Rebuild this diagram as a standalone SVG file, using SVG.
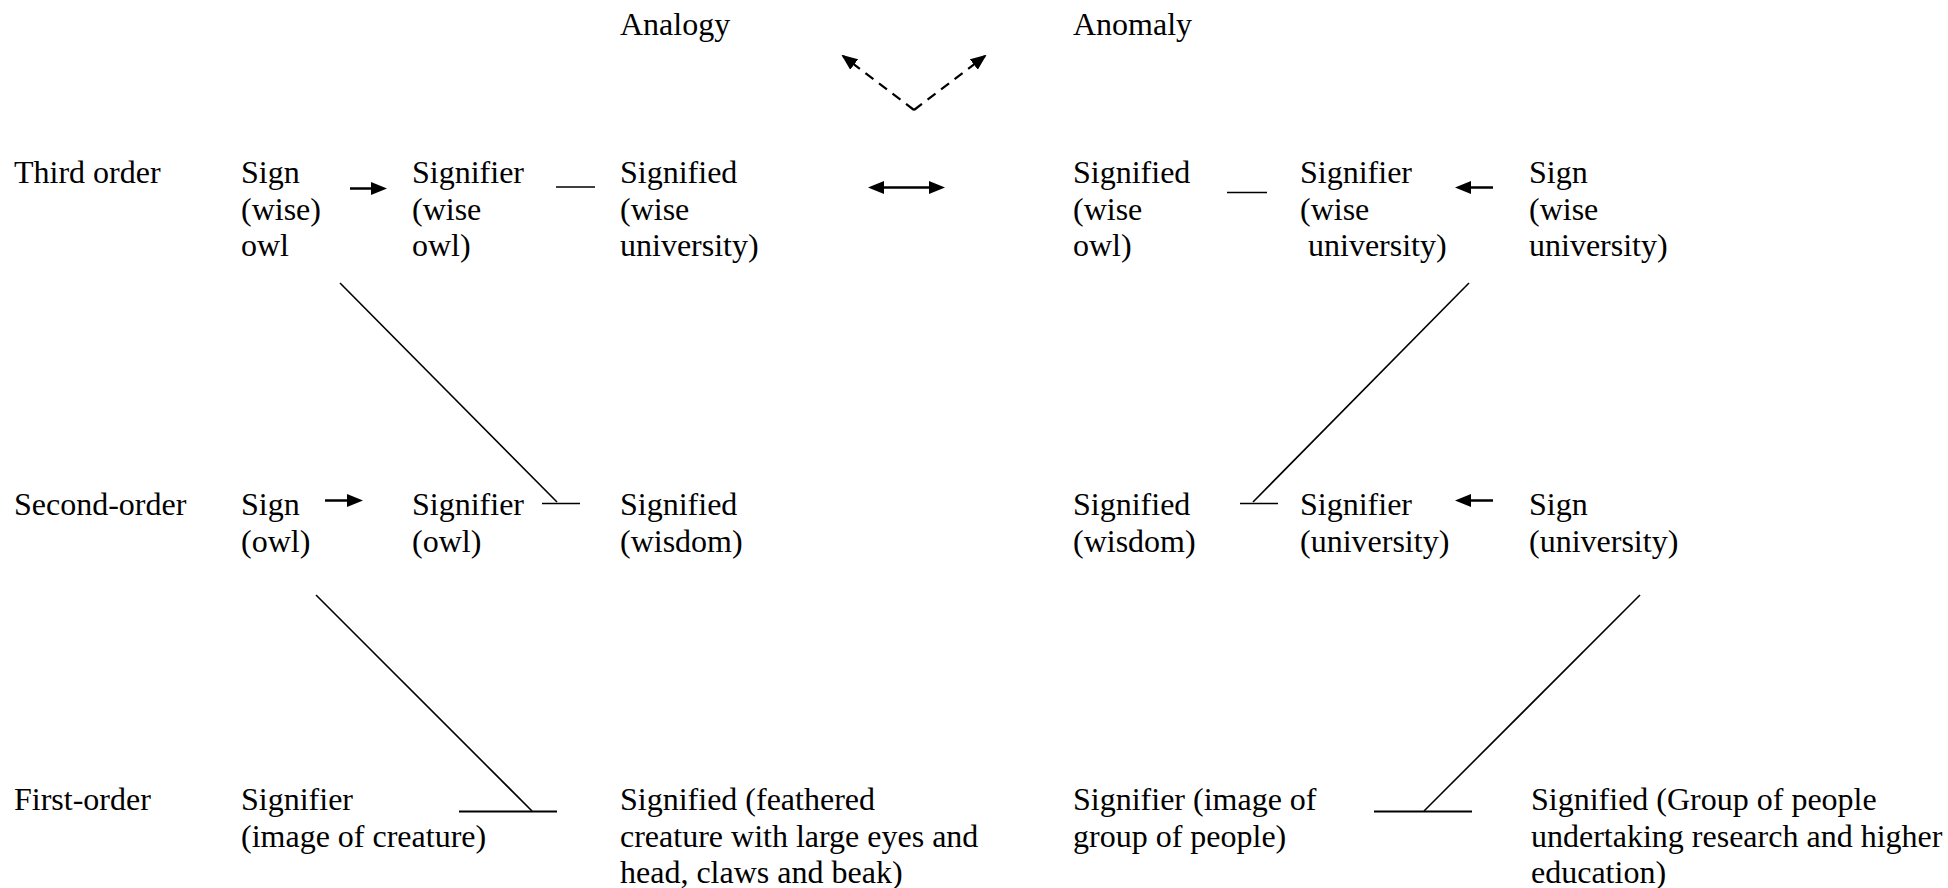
<svg xmlns="http://www.w3.org/2000/svg" width="1948" height="888" viewBox="0 0 1948 888">
  <style>
    text { font-family: "Liberation Serif", "Times New Roman", serif; font-size: 32px; fill: #000; }
    .solid { stroke: #000; stroke-width: 2.5; fill: none; }
    .thin { stroke: #000; stroke-width: 1.6; fill: none; }
    .bar { stroke: #000; stroke-width: 2.2; fill: none; }
    .dash { stroke: #000; stroke-width: 2.2; fill: none; stroke-dasharray: 10 7; }
  </style>
  <defs>
    <marker id="ah" markerUnits="userSpaceOnUse" markerWidth="16" markerHeight="14" viewBox="0 0 16 14" refX="12" refY="7" orient="auto">
      <path d="M0,0.5 L16,7 L0,13.5 z" fill="#000"/>
    </marker>
    <marker id="ahs" markerUnits="userSpaceOnUse" markerWidth="16" markerHeight="14" viewBox="0 0 16 14" refX="12" refY="7" orient="auto-start-reverse">
      <path d="M0,0.5 L16,7 L0,13.5 z" fill="#000"/>
    </marker>
    <marker id="ahd" markerUnits="userSpaceOnUse" markerWidth="16" markerHeight="14" viewBox="0 0 16 14" refX="14" refY="7" orient="auto">
      <path d="M0,0.5 L16,7 L0,13.5 z" fill="#000"/>
    </marker>
  </defs>

  <g id="labels">
    <text x="14" y="183">Third order</text>
    <text x="14" y="515">Second-order</text>
    <text x="14" y="810">First-order</text>
  </g>

  <g id="analogy"><text x="620" y="35">Analogy</text></g>
  <g id="anomaly"><text x="1073" y="35">Anomaly</text></g>

  <g id="t3-sign"><text x="241" y="183">Sign</text><text x="241" y="219.5">(wise)</text><text x="241" y="256">owl</text></g>
  <g id="t3-signifier"><text x="412" y="183">Signifier</text><text x="412" y="219.5">(wise</text><text x="412" y="256">owl)</text></g>
  <g id="t3-signified"><text x="620" y="183">Signified</text><text x="620" y="219.5">(wise</text><text x="620" y="256">university)</text></g>
  <g id="t3-r-signified"><text x="1073" y="183">Signified</text><text x="1073" y="219.5">(wise</text><text x="1073" y="256">owl)</text></g>
  <g id="t3-r-signifier"><text x="1300" y="183">Signifier</text><text x="1300" y="219.5">(wise</text><text x="1300" y="256" xml:space="preserve"> university)</text></g>
  <g id="t3-r-sign"><text x="1529" y="183">Sign</text><text x="1529" y="219.5">(wise</text><text x="1529" y="256">university)</text></g>

  <g id="t2-sign"><text x="241" y="515">Sign</text><text x="241" y="551.5">(owl)</text></g>
  <g id="t2-signifier"><text x="412" y="515">Signifier</text><text x="412" y="551.5">(owl)</text></g>
  <g id="t2-signified"><text x="620" y="515">Signified</text><text x="620" y="551.5">(wisdom)</text></g>
  <g id="t2-r-signified"><text x="1073" y="515">Signified</text><text x="1073" y="551.5">(wisdom)</text></g>
  <g id="t2-r-signifier"><text x="1300" y="515">Signifier</text><text x="1300" y="551.5">(university)</text></g>
  <g id="t2-r-sign"><text x="1529" y="515">Sign</text><text x="1529" y="551.5">(university)</text></g>

  <g id="t1-signifier"><text x="241" y="810">Signifier</text><text x="241" y="846.5">(image of creature)</text></g>
  <g id="t1-signified"><text x="620" y="810">Signified (feathered</text><text x="620" y="846.5">creature with large eyes and</text><text x="620" y="883">head, claws and beak)</text></g>
  <g id="t1-r-signifier"><text x="1073" y="810">Signifier (image of</text><text x="1073" y="846.5">group of people)</text></g>
  <g id="t1-r-signified"><text x="1531" y="810">Signified (Group of people</text><text x="1531" y="846.5">undertaking research and higher</text><text x="1531" y="883">education)</text></g>

  <g id="connectors">
    <line class="dash" x1="914" y1="110" x2="843" y2="56" marker-end="url(#ahd)"/>
    <line class="dash" x1="914" y1="110" x2="985" y2="56" marker-end="url(#ahd)"/>
    <line class="solid" x1="350" y1="188.5" x2="383" y2="188.5" marker-end="url(#ah)"/>
    <line class="thin" x1="556" y1="187" x2="595" y2="187"/>
    <line class="solid" x1="872" y1="187.5" x2="941" y2="187.5" marker-start="url(#ahs)" marker-end="url(#ahs)"/>
    <line class="thin" x1="1227" y1="192.5" x2="1267" y2="192.5"/>
    <line class="solid" x1="1493" y1="187.5" x2="1459" y2="187.5" marker-end="url(#ah)"/>
    <line class="solid" x1="325" y1="500.5" x2="359" y2="500.5" marker-end="url(#ah)"/>
    <line class="thin" x1="542" y1="503.5" x2="580" y2="503.5"/>
    <line class="thin" x1="340" y1="283" x2="557" y2="502"/>
    <line class="thin" x1="1240" y1="503.5" x2="1278" y2="503.5"/>
    <line class="thin" x1="1469" y1="283" x2="1253" y2="502"/>
    <line class="solid" x1="1493" y1="500.5" x2="1459" y2="500.5" marker-end="url(#ah)"/>
    <line class="thin" x1="316" y1="595" x2="532" y2="811"/>
    <line class="bar" x1="459" y1="811.5" x2="557" y2="811.5"/>
    <line class="thin" x1="1640" y1="595" x2="1424" y2="811"/>
    <line class="bar" x1="1374" y1="811.5" x2="1472" y2="811.5"/>
  </g>
</svg>
